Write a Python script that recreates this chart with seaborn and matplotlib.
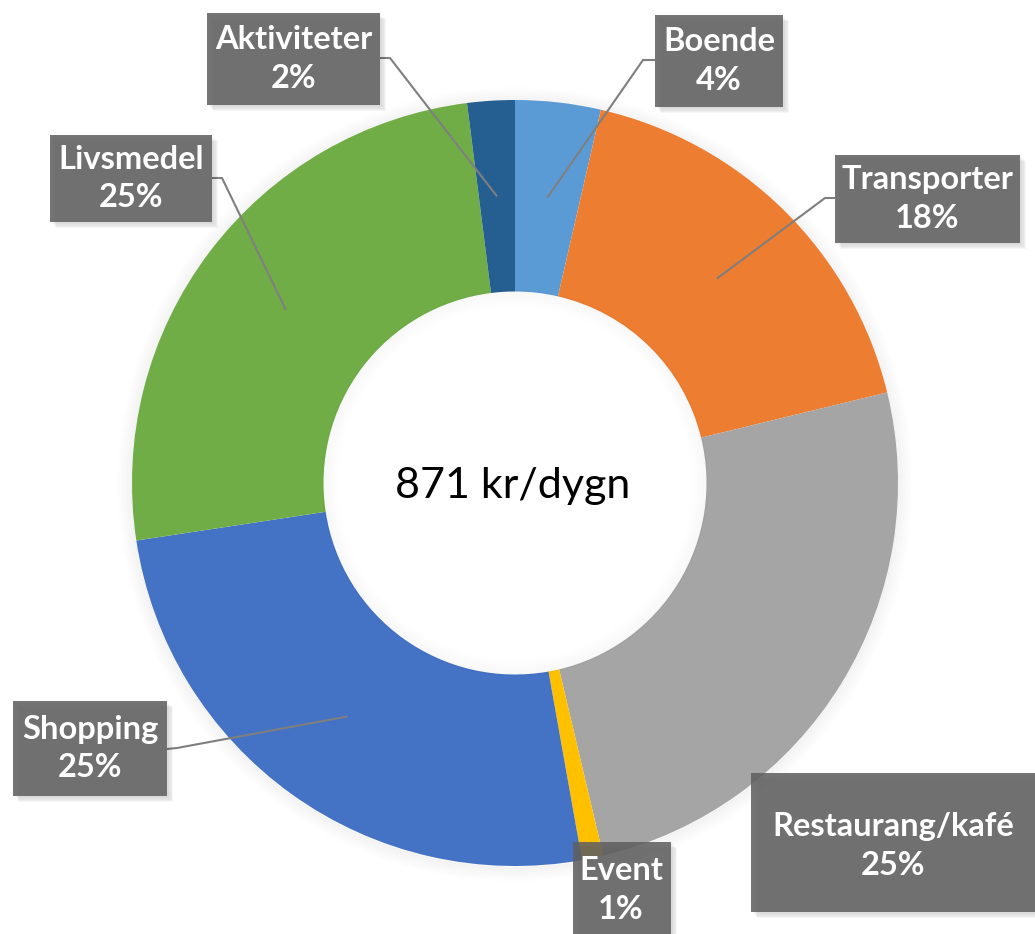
import numpy as np
import matplotlib
matplotlib.use("Agg")
import matplotlib.pyplot as plt
import seaborn as sns
from matplotlib.patches import Rectangle, Circle

# data (share of daily spend, %)
categories = ["Boende", "Transporter", "Restaurang/kafé", "Event",
              "Shopping", "Livsmedel", "Aktiviteter"]
shares = [3.6, 17.6, 25.1, 0.9, 25.4, 25.4, 2.0]
center_label = "871 kr/dygn"
colors = ["#5B9BD5", "#ED7D31", "#A5A5A5", "#FFC000",
          "#4472C4", "#70AD47", "#255E91"]

sns.set_theme(style="white")
plt.rcParams["font.family"] = ["Lato", "DejaVu Sans"]

W, H = 1035, 934
CX, CY, R = 515, 483, 383


def px(x, y):
    """pixel position -> data coords (radius 1 == R px)"""
    return (x - CX) / R, (CY - y) / R


fig = plt.figure(figsize=(W / 100, H / 100), dpi=100)
ax = fig.add_axes([0, 0, 1, 1])

wedges, _ = ax.pie(shares, colors=colors, startangle=90, counterclock=False,
                   radius=1.0, wedgeprops=dict(width=0.5, linewidth=0),
                   normalize=True)
for w in wedges:
    w.set_zorder(2)

# pie() resets the limits, so set them afterwards
x0, y1 = px(0, 0)
x1, y0 = px(W, H)
ax.set_xlim(x0, x1)
ax.set_ylim(y0, y1)
ax.set_aspect("equal")
ax.axis("off")

# soft glow outside the ring and inside the hole
for i in range(8):
    fade = (8 - i) / 8
    ax.add_patch(Circle((0, -0.003), 1.0 + 0.005 * i, fill=False, ec="black",
                        alpha=0.03 * fade, lw=2.2, zorder=1))
    ax.add_patch(Circle((0, 0), 0.5 - 0.005 * i, fill=False, ec="black",
                        alpha=0.02 * fade, lw=2.2, zorder=3))

ax.text(*px(513, 486), center_label, ha="center", va="center",
        fontsize=31, color="black", zorder=5)

# label boxes (pixel layout): left, top, right, bottom, leader start/elbow
boxes = {
    "Boende": (655, 15, 783, 107, [(655, 60), (643, 60)]),
    "Transporter": (835, 155, 1020, 243, [(835, 198), (825, 198)]),
    "Restaurang/kafé": (751, 773, 1040, 912, None),
    "Event": (573, 842, 671, 940, None),
    "Shopping": (13, 701, 167, 796, [(167, 749), (177, 748)]),
    "Livsmedel": (50, 135, 212, 222, [(212, 178), (222, 178)]),
    "Aktiviteter": (207, 13, 380, 105, [(380, 58), (390, 58)]),
}

total = sum(shares)
cum = np.cumsum([0] + shares[:-1])
for cat, val, start in zip(categories, shares, cum):
    left, top, right, bottom, lead = boxes[cat]
    mid = np.deg2rad((start + val / 2) / total * 360)
    end = (0.75 * np.sin(mid), 0.75 * np.cos(mid))
    if lead:
        pts = [px(*p) for p in lead] + [end]
        ax.plot([p[0] for p in pts], [p[1] for p in pts], color="#7F7F7F",
                lw=1.5, zorder=4, solid_capstyle="butt")
    bl = px(left, bottom)
    w = (right - left) / R
    h = (bottom - top) / R
    # drop shadow, offset down-right only
    for k in range(4):
        off = (k + 2) * 1.2 / R
        ax.add_patch(Rectangle((bl[0] + off, bl[1] - off), w, h, color="black",
                               alpha=0.035, lw=0, zorder=5))
    ax.add_patch(Rectangle(bl, w, h, color="white", lw=0, zorder=5.5,
                           alpha=0.0))
    ax.add_patch(Rectangle(bl, w, h, color="#606060", alpha=0.87, lw=0, zorder=6))
    cx = (left + min(right, W)) / 2
    cy = (top + min(bottom, H)) / 2
    if cat == "Restaurang/kafé":
        cx, cy = 893, 846
    if cat == "Event":
        cx, cy = 621, 890
    ax.text(*px(cx, cy), f"{cat}\n{round(val):d}%", ha="center", va="center",
            fontsize=23.5, fontweight="bold", color="white", linespacing=1.4,
            zorder=7)

fig.savefig("out.png", dpi=100)
